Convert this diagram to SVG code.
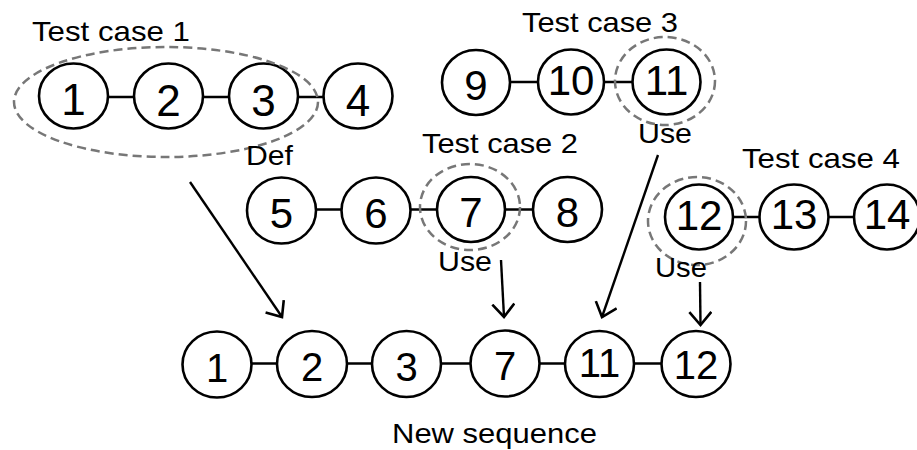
<svg xmlns="http://www.w3.org/2000/svg" width="917" height="450" viewBox="0 0 917 450">
  <style>
    .node { fill: #fff; stroke: #000; stroke-width: 2.6; }
    .num { font-family: "Liberation Sans", Arial, sans-serif; font-size: 42px; fill: #000; text-anchor: middle; }
    .big { font-size: 44px; }
    .small { font-size: 40px; }
    .edge { stroke: #000; stroke-width: 2.6; fill: none; }
    .group { fill: none; stroke: #777; stroke-width: 2.5; stroke-dasharray: 9 5; }
    .label { font-family: "Liberation Sans", Arial, sans-serif; font-size: 28px; fill: #000; }
    .arrow { stroke: #000; stroke-width: 2.4; fill: none; marker-end: url(#head); }
  </style>
  <defs>
    <marker id="head" markerUnits="userSpaceOnUse" markerWidth="20" markerHeight="26" refX="14" refY="12" orient="auto">
      <path d="M1,1 L14,12 L1,23" fill="none" stroke="#000" stroke-width="2.6"/>
    </marker>
  </defs>

  <rect width="917" height="450" fill="#fff"/>

  <!-- chain links between nodes -->
  <g id="links">
    <line class="edge" x1="73.5" y1="97" x2="358" y2="97"/>
    <line class="edge" x1="476" y1="82" x2="666.5" y2="82"/>
    <line class="edge" x1="281" y1="209.5" x2="567" y2="209.5"/>
    <line class="edge" x1="699" y1="217" x2="888" y2="217"/>
    <line class="edge" x1="217" y1="363.5" x2="696" y2="363.5"/>
  </g>

  <!-- Test case 1 -->
  <g id="tc1">
    <text class="label" x="32" y="41" textLength="158" lengthAdjust="spacingAndGlyphs">Test case 1</text>
    <g id="n1"><ellipse class="node" cx="73.5" cy="96" rx="34.5" ry="32.5"/><text class="num big" x="73.5" y="115">1</text></g>
    <g id="n2"><ellipse class="node" cx="168.5" cy="96" rx="34.5" ry="32.5"/><text class="num big" x="168.5" y="116">2</text></g>
    <g id="n3"><ellipse class="node" cx="263.5" cy="96" rx="34.5" ry="32.5"/><text class="num big" x="263.5" y="116">3</text></g>
    <g id="n4"><ellipse class="node" cx="358" cy="96" rx="34.5" ry="32.5"/><text class="num big" x="358" y="116">4</text></g>
    <ellipse class="group" cx="166" cy="102" rx="152" ry="55"/>
    <text class="label" x="246" y="165" textLength="47" lengthAdjust="spacingAndGlyphs">Def</text>
  </g>

  <!-- Test case 3 -->
  <g id="tc3">
    <text class="label" x="522" y="32" textLength="156" lengthAdjust="spacingAndGlyphs">Test case 3</text>
    <g id="n9"><ellipse class="node" cx="476" cy="82.5" rx="34" ry="32.5"/><text class="num" x="476" y="99.5">9</text></g>
    <g id="n10"><ellipse class="node" cx="571" cy="82" rx="33" ry="32.5"/><text class="num" x="571" y="95">10</text></g>
    <g id="n11"><ellipse class="node" cx="666.5" cy="82" rx="34" ry="32.5"/><text class="num" x="666.5" y="95">11</text></g>
    <ellipse class="group" cx="665" cy="81" rx="50" ry="44"/>
    <text class="label" x="638" y="143" textLength="54" lengthAdjust="spacingAndGlyphs">Use</text>
  </g>

  <!-- Test case 2 -->
  <g id="tc2">
    <text class="label" x="422" y="153" textLength="156" lengthAdjust="spacingAndGlyphs">Test case 2</text>
    <g id="n5"><ellipse class="node" cx="281.5" cy="210.5" rx="34.5" ry="33"/><text class="num" x="281.5" y="228">5</text></g>
    <g id="n6"><ellipse class="node" cx="376" cy="210.5" rx="34.5" ry="33"/><text class="num" x="376" y="228">6</text></g>
    <g id="n7"><ellipse class="node" cx="471" cy="209.5" rx="34" ry="32.5"/><text class="num" x="471" y="226.5">7</text></g>
    <g id="n8"><ellipse class="node" cx="567.5" cy="209.5" rx="34.5" ry="32.5"/><text class="num" x="567.5" y="226.5">8</text></g>
    <ellipse class="group" cx="470" cy="207" rx="50" ry="43"/>
    <text class="label" x="438" y="271" textLength="54" lengthAdjust="spacingAndGlyphs">Use</text>
  </g>

  <!-- Test case 4 -->
  <g id="tc4">
    <text class="label" x="742" y="168" textLength="158" lengthAdjust="spacingAndGlyphs">Test case 4</text>
    <g id="n12"><ellipse class="node" cx="699" cy="217" rx="34" ry="32.5"/><text class="num" x="699" y="230">12</text></g>
    <g id="n13"><ellipse class="node" cx="794" cy="217" rx="34.5" ry="32.5"/><text class="num" x="794" y="229">13</text></g>
    <g id="n14"><ellipse class="node" cx="887" cy="217" rx="33" ry="32.5"/><text class="num" x="887" y="229">14</text></g>
    <ellipse class="group" cx="697" cy="221" rx="49" ry="44"/>
    <text class="label" x="655" y="277" textLength="52" lengthAdjust="spacingAndGlyphs">Use</text>
  </g>

  <!-- New sequence -->
  <g id="seq">
    <g id="s1"><ellipse class="node" cx="217" cy="364.5" rx="34.5" ry="33"/><text class="num small" x="217" y="381.5">1</text></g>
    <g id="s2"><ellipse class="node" cx="312" cy="364" rx="35" ry="33"/><text class="num small" x="312" y="380.5">2</text></g>
    <g id="s3"><ellipse class="node" cx="406.5" cy="364" rx="34.5" ry="33"/><text class="num small" x="406.5" y="381">3</text></g>
    <g id="s7"><ellipse class="node" cx="505" cy="363.5" rx="34.5" ry="33"/><text class="num small" x="505" y="379.5">7</text></g>
    <g id="s11"><ellipse class="node" cx="599.5" cy="364" rx="34.5" ry="33"/><text class="num small" x="599.5" y="377">11</text></g>
    <g id="s12"><ellipse class="node" cx="696" cy="364" rx="34.5" ry="33"/><text class="num small" x="696" y="378.5">12</text></g>
    <text class="label" x="392" y="443" textLength="205" lengthAdjust="spacingAndGlyphs">New sequence</text>
  </g>

  <!-- arrows into the new sequence -->
  <g id="connectors">
    <line class="arrow" x1="190" y1="182" x2="282" y2="317"/>
    <line class="arrow" x1="501" y1="260" x2="504" y2="317"/>
    <line class="arrow" x1="658" y1="155" x2="602" y2="317"/>
    <line class="arrow" x1="700" y1="282" x2="700.5" y2="325"/>
  </g>
</svg>
